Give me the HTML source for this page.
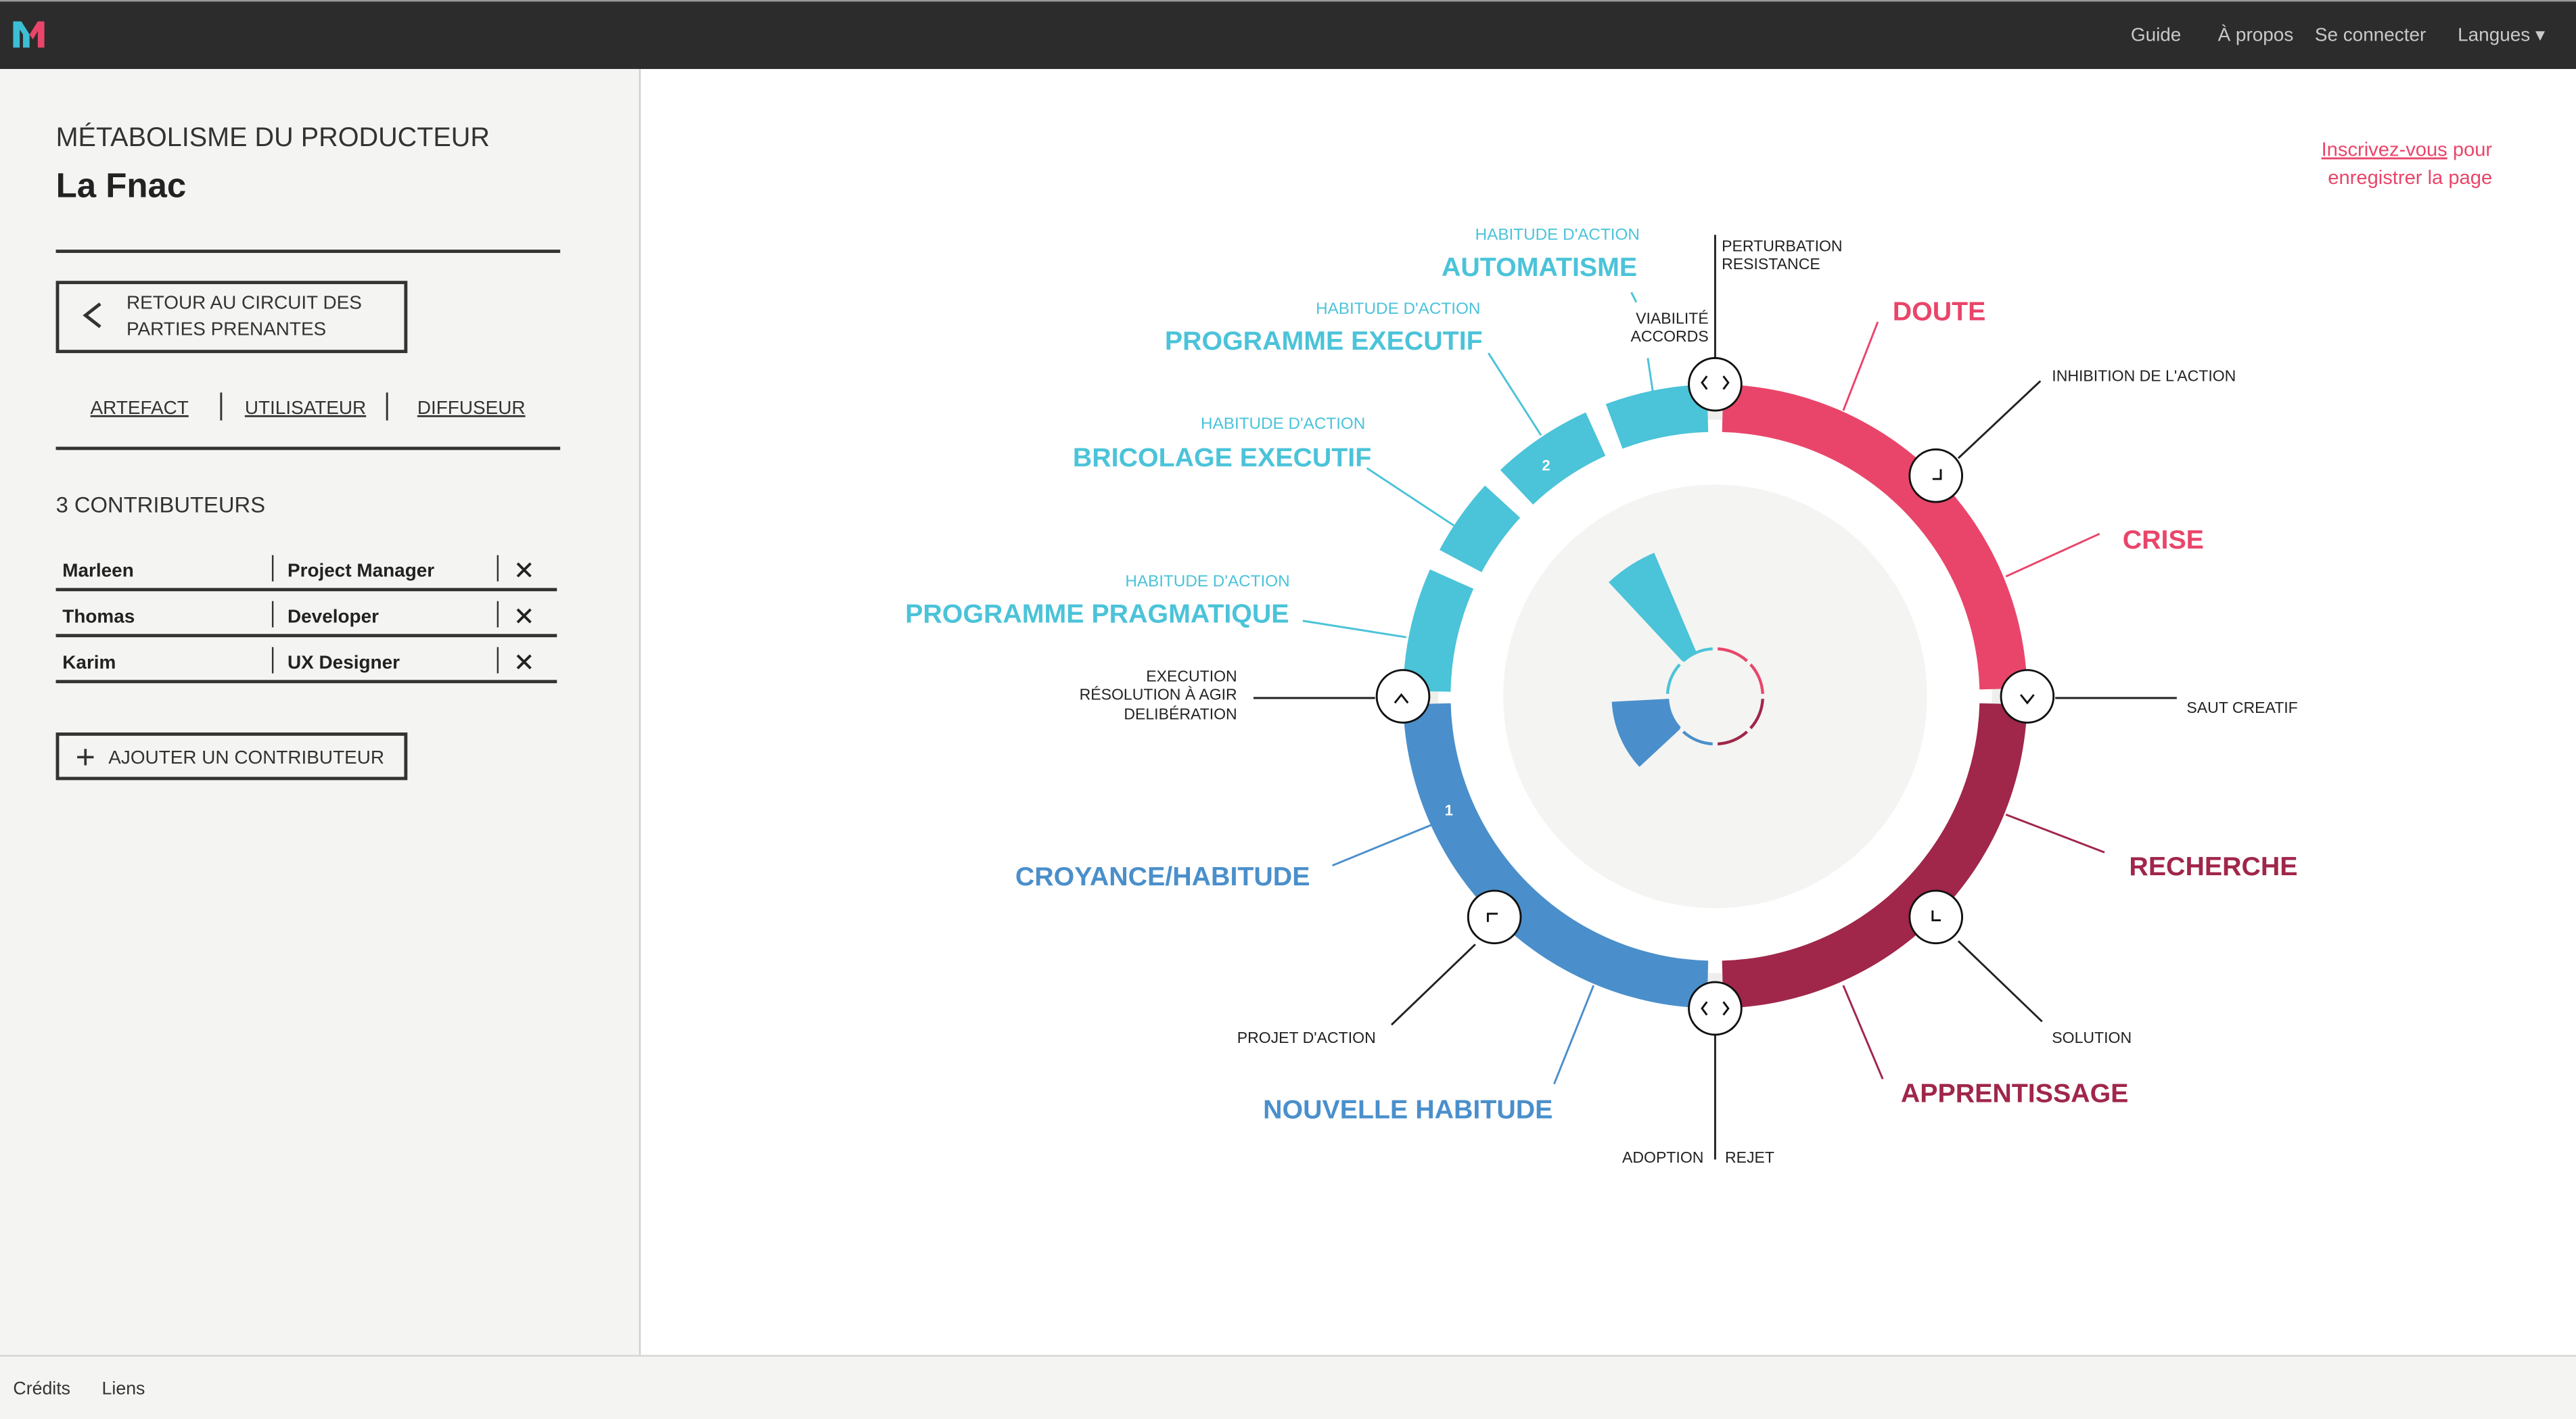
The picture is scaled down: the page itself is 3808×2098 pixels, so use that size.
<!DOCTYPE html>
<html><head><meta charset="utf-8"><style>
html,body{margin:0;padding:0;background:#fff;}
svg{display:block;font-family:"Liberation Sans",sans-serif;}
</style></head><body>
<svg id="s" width="3808" height="2098" viewBox="0 0 1568 864" preserveAspectRatio="none" xmlns="http://www.w3.org/2000/svg">
<rect x="0" y="0" width="1568" height="864" fill="#fff"/>
<g>
<rect x="0" y="0" width="1568" height="42" fill="#2c2c2c"/>
<rect x="0" y="0" width="1568" height="1" fill="#999"/>
<g><path d="M8 29 V13 H13 L18 21 V29 H14 V21 L12 18 V29 Z" fill="#3bbfd4"/><path d="M18 21 L23 13 H27 V29 H23 V19 L20 24 Z" fill="#e9456a"/></g>
<g font-size="11.5" fill="#c9c9c9">
<text x="1297" y="25">Guide</text>
<text x="1350" y="25">À propos</text>
<text x="1409" y="25">Se connecter</text>
<text x="1496" y="25">Langues ▾</text>
</g></g>
<g>
<rect x="0" y="42" width="389" height="783" fill="#f4f4f2"/>
<rect x="389" y="42" width="1" height="783" fill="#cfcfcf"/>
<text x="34" y="89" font-size="16.3" fill="#333">MÉTABOLISME DU PRODUCTEUR</text>
<text x="34" y="120" font-size="21" font-weight="bold" fill="#222">La Fnac</text>
<rect x="34" y="152" width="307" height="2" fill="#333"/>
<g>
<rect x="35" y="172" width="212" height="42" fill="none" stroke="#333" stroke-width="2"/>
<path d="M61 185 L52 192 L61 199" fill="none" stroke="#333" stroke-width="2"/>
<text x="77" y="188" font-size="11.5" fill="#333">RETOUR AU CIRCUIT DES</text>
<text x="77" y="204" font-size="11.5" fill="#333">PARTIES PRENANTES</text></g>
<g font-size="11.5" fill="#333" text-decoration="underline">
<text x="55" y="252">ARTEFACT</text>
<text x="149" y="252">UTILISATEUR</text>
<text x="254" y="252">DIFFUSEUR</text></g>
<rect x="134" y="239" width="1.2" height="17" fill="#333"/><rect x="235" y="239" width="1.2" height="17" fill="#333"/>
<rect x="34" y="272" width="307" height="2" fill="#333"/>
<text x="34" y="312" font-size="13.5" fill="#333">3 CONTRIBUTEURS</text>
<g font-size="11.5" font-weight="bold" fill="#222">
<text x="38" y="351">Marleen</text><text x="175" y="351">Project Manager</text>
<text x="38" y="379">Thomas</text><text x="175" y="379">Developer</text>
<text x="38" y="407">Karim</text><text x="175" y="407">UX Designer</text></g>
<g fill="#333"><rect x="34" y="358" width="305" height="2"/><rect x="34" y="386" width="305" height="2"/><rect x="34" y="414" width="305" height="2"/>
<rect x="165.5" y="338" width="1" height="16"/><rect x="165.5" y="366" width="1" height="16"/><rect x="165.5" y="394" width="1" height="16"/>
<rect x="302.5" y="338" width="1" height="16"/><rect x="302.5" y="366" width="1" height="16"/><rect x="302.5" y="394" width="1" height="16"/></g>
<g stroke="#222" stroke-width="1.6">
<path d="M315 343 l8 8 M323 343 l-8 8"/>
<path d="M315 371 l8 8 M323 371 l-8 8"/>
<path d="M315 399 l8 8 M323 399 l-8 8"/></g>
<g>
<rect x="35" y="447" width="212" height="27" fill="none" stroke="#333" stroke-width="2"/>
<path d="M47 461 h10 M52 456 v10" stroke="#333" stroke-width="1.5"/>
<text x="66" y="465" font-size="11.5" fill="#333">AJOUTER UN CONTRIBUTEUR</text></g>
</g>
<g>
<rect x="0" y="825" width="1568" height="39" fill="#f4f4f2"/>
<rect x="0" y="825" width="1568" height="1" fill="#d5d5d5"/>
<text x="8" y="849" font-size="11" fill="#333">Crédits</text>
<text x="62" y="849" font-size="11" fill="#333">Liens</text></g>
<g font-size="12" fill="#e9456a" text-anchor="end">
<text x="1517" y="95"><tspan text-decoration="underline">Inscrivez-vous</tspan> pour</text>
<text x="1517" y="112">enregistrer la page</text></g>
<g id="chart"></g>
</svg>
<script>
const segStart = [1.5, 91.5, 181.5, 271, 298, 316.5, 339.5];
const segEnd   = [88.5, 178.5, 268.5, 294, 312.5, 335.5, 358.5];
const segColor = ["#e9456a","#a0264a","#4a8fcb","#4bc3d9","#4bc3d9","#4bc3d9","#4bc3d9"];
const segNames = ["ring-doute-crise","ring-recherche-apprentissage","ring-croyance-habitude","ring-programme-pragmatique","ring-bricolage-executif","ring-programme-executif","ring-automatisme"];
const wedgeStart = [317, 227];
const wedgeEnd   = [337, 267];
const wedgeValue = [95, 63];
const wedgeColor = ["#4bc3d9","#4a8fcb"];
const nodeAngles = [0,45,90,135,180,225,270];

const NS="http://www.w3.org/2000/svg";
const g=document.getElementById('chart');
const cx=1044, cy=424, rOut=190, rIn=161;
function pt(a,r){const t=a*Math.PI/180;return [cx+r*Math.sin(t), cy-r*Math.cos(t)];}
function sector(a0,a1,r0,r1){
  const p0=pt(a0,r1),p1=pt(a1,r1),p2=pt(a1,r0),p3=pt(a0,r0);const l=(a1-a0)>180?1:0;
  return `M${p0[0]} ${p0[1]} A${r1} ${r1} 0 ${l} 1 ${p1[0]} ${p1[1]} L${p2[0]} ${p2[1]} A${r0} ${r0} 0 ${l} 0 ${p3[0]} ${p3[1]} Z`;
}
function mk(tag,attrs,parent){const e=document.createElementNS(NS,tag);for(const k in attrs)e.setAttribute(k,attrs[k]);(parent||g).appendChild(e);return e;}

const band=mk('circle',{cx:cx,cy:cy,r:(rOut+rIn)/2,fill:'none',stroke:'#eeeeec','stroke-width':14});


const cyGaps=[[294,298],[312.5,316.5],[335.5,339.5]];
cyGaps.forEach(gp=>{const w=mk('path',{d:sector(gp[0],gp[1],rIn-2,rOut+2),fill:'#fff'});

});
for(let i=0;i<segStart.length;i++){
  const p=mk('path',{d:sector(segStart[i],segEnd[i],rIn,rOut),fill:segColor[i]});
  
  
}
const d1=pt(247,175); const t1=mk('text',{x:d1[0]-1,y:d1[1]+4,'font-size':9,fill:'#fff','font-weight':'bold','text-anchor':'middle'});t1.textContent='1';


const d2=pt(324,175); const t2=mk('text',{x:d2[0],y:d2[1]+4,'font-size':9,fill:'#fff','font-weight':'bold','text-anchor':'middle'});t2.textContent='2';



const disc=mk('circle',{cx:cx,cy:cy,r:129,fill:'#f4f4f2'});


for(let i=0;i<wedgeStart.length;i++){
  const w=mk('path',{d:sector(wedgeStart[i],wedgeEnd[i],29,wedgeValue[i]),fill:wedgeColor[i]});
  
  
}
const qCol=["#e9456a","#a0264a","#4a8fcb","#4bc3d9"];
for(let q=0;q<4;q++){for(let k=0;k<2;k++){
  const a0=q*90+k*45+3,a1=q*90+k*45+42;const p0=pt(a0,29),p1=pt(a1,29);
  const a=mk('path',{d:`M${p0[0]} ${p0[1]} A29 29 0 0 1 ${p1[0]} ${p1[1]}`,fill:'none',stroke:qCol[q],'stroke-width':1.8});
  
  
}}

const lines=[[1044,143,1044,218,'#222'],[993,178,996,184,'#4bc3d9'],[1003,218,1006,238,'#4bc3d9'],[1143,196,1122,250,'#e9456a'],[1242,232,1192,279,'#222'],[1278,325,1221,351,'#e9456a'],
[1251,425,1325,425,'#222'],[1281,519,1221,496,'#a0264a'],[1243,622,1192,573,'#222'],[1146,657,1122,600,'#a0264a'],[1044,630,1044,706,'#222'],
[946,660,970,600,'#4a8fcb'],[847,624,898,575,'#222'],[811,527,872,502,'#4a8fcb'],[763,425,837,425,'#222'],[793,378,856,388,'#4bc3d9'],[832,285,885,320,'#4bc3d9'],[906,215,938,265,'#4bc3d9']];
lines.forEach(l=>{const e=mk('line',{x1:l[0],y1:l[1],x2:l[2],y2:l[3],stroke:l[4],'stroke-width':1.2});

});

const icons={0:"M1039 229 l-3 4 l3 4 M1049 229 l3 4 l-3 4",180:"M1039 610 l-3 4 l3 4 M1049 610 l3 4 l-3 4",90:"M1230 423 l4 5 l4 -5",270:"M849 428 l4 -5 l4 5"};
nodeAngles.forEach(a=>{const p=pt(a,rOut);
  const c=mk('circle',{cx:p[0],cy:p[1],r:16,fill:'#fff',stroke:'#111','stroke-width':1.2});
  
  
  let d=icons[a];
  if(!d){d=a===45?`M${p[0]+3} ${p[1]-4} v6 h-5`:a===135?`M${p[0]-2} ${p[1]-4} v6 h5`:`M${p[0]-4} ${p[1]+3} v-5 h6`;}
  const ic=mk('path',{d:d,fill:'none',stroke:'#111','stroke-width':1.2});
  
  
});

const B=16.2;
const labels=[
[948,146,"HABITUDE D'ACTION",10,'normal','#4bc3d9','middle'],[937,168,"AUTOMATISME",B,'bold','#4bc3d9','middle'],
[1048,153,"PERTURBATION",9.5,'normal','#222','start'],[1048,164,"RESISTANCE",9.5,'normal','#222','start'],
[1040,197,"VIABILITÉ",9.5,'normal','#222','end'],[1040,208,"ACCORDS",9.5,'normal','#222','end'],
[1152,195,"DOUTE",B,'bold','#e9456a','start'],[1249,232,"INHIBITION DE L'ACTION",9.5,'normal','#222','start'],
[1292,334,"CRISE",B,'bold','#e9456a','start'],[1331,434,"SAUT CREATIF",9.5,'normal','#222','start'],
[1296,533,"RECHERCHE",B,'bold','#a0264a','start'],[1249,635,"SOLUTION",9.5,'normal','#222','start'],
[1157,671,"APPRENTISSAGE",B,'bold','#a0264a','start'],[1037,708,"ADOPTION",9.5,'normal','#222','end'],[1050,708,"REJET",9.5,'normal','#222','start'],
[857,681,"NOUVELLE HABITUDE",B,'bold','#4a8fcb','middle'],[753,635,"PROJET D'ACTION",9.5,'normal','#222','start'],
[618,539,"CROYANCE/HABITUDE",B,'bold','#4a8fcb','start'],
[753,415,"EXECUTION",9.5,'normal','#222','end'],[753,426,"RÉSOLUTION À AGIR",9.5,'normal','#222','end'],[753,438,"DELIBÉRATION",9.5,'normal','#222','end'],
[735,357,"HABITUDE D'ACTION",10,'normal','#4bc3d9','middle'],[551,379,"PROGRAMME PRAGMATIQUE",B,'bold','#4bc3d9','start'],
[781,261,"HABITUDE D'ACTION",10,'normal','#4bc3d9','middle'],[653,284,"BRICOLAGE EXECUTIF",B,'bold','#4bc3d9','start'],
[851,191,"HABITUDE D'ACTION",10,'normal','#4bc3d9','middle'],[709,213,"PROGRAMME EXECUTIF",B,'bold','#4bc3d9','start']];
labels.forEach(L=>{const t=mk('text',{x:L[0],y:L[1],'font-size':L[3],'font-weight':L[4],fill:L[5],'text-anchor':L[6]});t.textContent=L[2];

});
</script>
</body></html>
